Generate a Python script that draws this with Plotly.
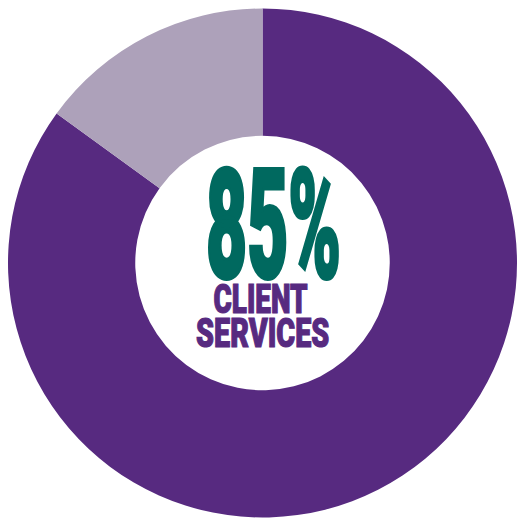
import plotly.graph_objects as go

labels = ["Client Services", "Other"]
values = [85, 15]
colors = ["#572A80", "#ADA1BA"]
big_label = "85%"
sub_lines = ["CLIENT", "SERVICES"]

fig = go.Figure(go.Pie(
    labels=labels, values=values, hole=0.5, sort=False, direction="clockwise",
    rotation=0, marker=dict(colors=colors, line=dict(width=0)),
    textinfo="none", hoverinfo="skip",
    domain=dict(x=[8/517, 1], y=[2/520, 512/520]),
))

fig.add_annotation(text=big_label, x=273.5/517, y=0.566, xref="paper", yref="paper",
                   showarrow=False, xanchor="center", yanchor="middle",
                   font=dict(family="Roboto", size=152, color="#00695F", weight=900))
fig.add_annotation(text=sub_lines[0], x=260.5/517, y=0.425, xref="paper", yref="paper",
                   showarrow=False, xanchor="center", yanchor="middle",
                   font=dict(family="Roboto", size=40, color="#572A80", weight=900))
fig.add_annotation(text=sub_lines[1], x=262/517, y=0.359, xref="paper", yref="paper",
                   showarrow=False, xanchor="center", yanchor="middle",
                   font=dict(family="Roboto", size=40, color="#572A80", weight=900))

fig.update_layout(width=517, height=520, margin=dict(l=0, r=0, t=0, b=0),
                  showlegend=False, paper_bgcolor="white", plot_bgcolor="white")

post = """
document.body.style.margin = '0';
document.documentElement.style.overflow = 'hidden';
var gd = document.getElementById('{plot_id}');
function squish(){
  var targets = {'85%':[137, 4], 'CLIENT':[95, 1.2], 'SERVICES':[134, 1.2]};
  gd.querySelectorAll('text.annotation-text').forEach(function(t){
    var tg = targets[t.textContent];
    if(!tg) return;
    t.removeAttribute('transform');
    t.style.stroke = t.style.fill;
    t.style.strokeWidth = tg[1] + 'px';
    t.style.strokeLinejoin = 'miter';
    var b = t.getBBox();
    var cx = b.x + b.width/2;
    var s = tg[0] / (b.width + tg[1]);
    t.setAttribute('transform','translate('+cx+',0) scale('+s+',1) translate('+(-cx)+',0)');
  });
}
squish();
gd.on('plotly_afterplot', squish);
"""

fig.write_html("out.html", config={"displayModeBar": False}, post_script=post)
